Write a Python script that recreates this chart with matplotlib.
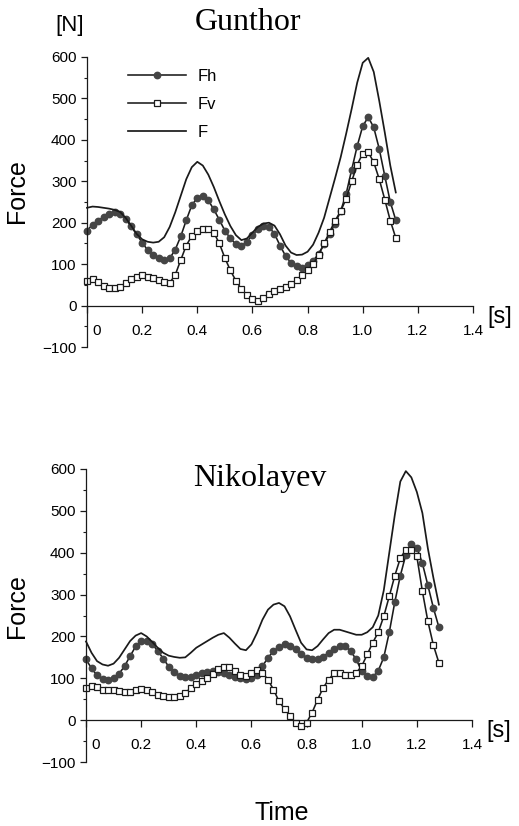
import numpy as np
import matplotlib
matplotlib.use('Agg')
import matplotlib.pyplot as plt
import matplotlib.transforms as mtransforms
from matplotlib.ticker import MultipleLocator

plt.rcParams['font.family'] = ['Liberation Sans', 'DejaVu Sans']

# force curves, one sample every 0.02 s
dt = 0.02

gun_fh = [181, 195, 205, 214, 222, 226, 220, 209, 191, 172,
          152, 134, 122, 114, 110, 114, 135, 167, 206, 242,
          260, 265, 254, 232, 207, 181, 162, 148, 144, 154,
          171, 184, 192, 190, 173, 145, 120, 103, 95, 91,
          98, 108, 125, 148, 172, 198, 228, 270, 328, 385,
          433, 455, 430, 378, 313, 250, 206]
gun_fv = [59, 65, 57, 48, 42, 42, 46, 54, 63, 70,
          73, 70, 66, 62, 56, 55, 74, 110, 145, 168,
          180, 185, 186, 176, 150, 115, 85, 60, 40, 25,
          16, 12, 18, 28, 36, 41, 45, 52, 62, 73,
          85, 100, 122, 150, 178, 205, 228, 258, 300, 340,
          367, 370, 346, 305, 256, 205, 163]
gun_f = [236, 239, 238, 236, 234, 231, 226, 212, 193, 173,
         160, 154, 152, 154, 165, 190, 225, 265, 305, 334,
         347, 338, 316, 286, 252, 220, 192, 170, 158, 162,
         176, 190, 198, 200, 193, 172, 145, 128, 122, 123,
         130, 147, 176, 212, 260, 308, 358, 415, 475, 538,
         586, 598, 564, 494, 418, 338, 273]

nik_fh = [145, 124, 107, 98, 96, 100, 111, 129, 153, 176,
          188, 189, 181, 166, 147, 128, 115, 106, 103, 104,
          108, 112, 115, 117, 116, 113, 109, 104, 101, 99,
          101, 109, 129, 149, 165, 175, 181, 178, 169, 157,
          149, 145, 146, 152, 161, 170, 177, 177, 165, 145,
          117, 105, 103, 118, 150, 210, 282, 345, 395, 422,
          412, 375, 322, 268, 222]
nik_fv = [77, 81, 79, 73, 72, 71, 69, 68, 68, 71,
          74, 72, 68, 61, 57, 56, 56, 57, 65, 77,
          87, 93, 100, 110, 121, 127, 127, 117, 109, 106,
          112, 119, 113, 97, 73, 45, 27, 10, -6, -14,
          -6, 18, 49, 77, 97, 112, 113, 107, 107, 113,
          129, 157, 185, 210, 248, 296, 345, 387, 407, 407,
          391, 308, 236, 179, 137]
nik_f = [188, 161, 141, 133, 130, 135, 149, 169, 189, 202,
         208, 200, 187, 173, 161, 154, 151, 149, 150, 161,
         173, 181, 189, 197, 204, 208, 197, 183, 170, 167,
         181, 208, 240, 264, 276, 280, 272, 248, 216, 185,
         169, 167, 177, 193, 208, 216, 216, 212, 208, 204,
         204, 210, 222, 250, 310, 400, 490, 570, 595, 580,
         545, 495, 410, 340, 276]

x_ticks = [0, 0.2, 0.4, 0.6, 0.8, 1.0, 1.2, 1.4]
x_labels = ['0', '0.2', '0.4', '0.6', '0.8', '1.0', '1.2', '1.4']
y_ticks = [-100, 0, 100, 200, 300, 400, 500, 600]

W, H = 519, 826
fig = plt.figure(figsize=(W / 100, H / 100), dpi=100)
ink = '#1a1a1a'


def panel(rect, fh, fv, f):
    ax = fig.add_axes(rect)
    t = np.arange(len(f)) * dt
    lh, = ax.plot(t, fh, color=ink, lw=1.15, marker='o', ms=4.6,
                  mfc='#454545', mec='#454545', clip_on=False)
    lv, = ax.plot(t, fv, color=ink, lw=1.15, marker='s', ms=4.7,
                  mfc='white', mec=ink, mew=0.9, clip_on=False)
    lf, = ax.plot(t, f, color=ink, lw=1.25, clip_on=False)

    ax.set_xlim(0, 1.4)
    ax.set_ylim(-100, 600)
    for s in ['top', 'right']:
        ax.spines[s].set_visible(False)
    ax.spines['bottom'].set_position(('data', 0))
    for s in ['left', 'bottom']:
        ax.spines[s].set_linewidth(0.9)
        ax.spines[s].set_color(ink)

    ax.set_xticks(x_ticks)
    ax.set_xticklabels(x_labels)
    ax.set_yticks(y_ticks)
    ax.yaxis.set_minor_locator(MultipleLocator(50))
    ax.tick_params(axis='x', direction='out', length=5, width=0.9,
                   labelsize=11, pad=8, color=ink)
    ax.tick_params(axis='y', which='major', direction='out', length=4.5,
                   width=0.9, labelsize=11, pad=3, color=ink)
    ax.tick_params(axis='y', which='minor', direction='out', length=2.5,
                   width=0.8, color=ink)
    # "0" sits right of the y axis
    lab0 = ax.get_xticklabels()[0]
    lab0.set_transform(lab0.get_transform() +
                       mtransforms.ScaledTranslation(7 / 72, 0, fig.dpi_scale_trans))

    ax.annotate('[s]', xy=(1.4, 0), xycoords='data', xytext=(10, -8),
                textcoords='offset points', ha='left', va='center',
                fontsize=17, annotation_clip=False)
    return ax, (lh, lv, lf)


ax1, handles = panel([87 / W, 1 - 347 / H, 386 / W, 290 / H], gun_fh, gun_fv, gun_f)
ax2, _ = panel([86 / W, 1 - 762 / H, 386 / W, 293 / H], nik_fh, nik_fv, nik_f)

ax1.legend(handles, ['Fh', 'Fv', 'F'], loc='upper left',
           bbox_to_anchor=(128 / W, 1 - 69 / H), bbox_transform=fig.transFigure,
           frameon=False, fontsize=12, handlelength=3.5, handletextpad=0.7,
           labelspacing=0.78, borderpad=0, borderaxespad=0, numpoints=1)

fig.text(248 / W, 1 - 30 / H, 'Gunthor', family='Liberation Serif',
         fontsize=23, ha='center', va='baseline')
fig.text(260 / W, 1 - 486 / H, 'Nikolayev', family='Liberation Serif',
         fontsize=23, ha='center', va='baseline')
fig.text(70 / W, 1 - 26 / H, '[N]', fontsize=16, ha='center', va='center')
fig.text(17 / W, 1 - 191 / H, 'Force', fontsize=18, rotation=90,
         ha='center', va='center')
fig.text(17 / W, 1 - 606 / H, 'Force', fontsize=18, rotation=90,
         ha='center', va='center')
fig.text(282 / W, 1 - 813 / H, 'Time', fontsize=18, ha='center', va='center')

fig.savefig('out.png', dpi=100)
